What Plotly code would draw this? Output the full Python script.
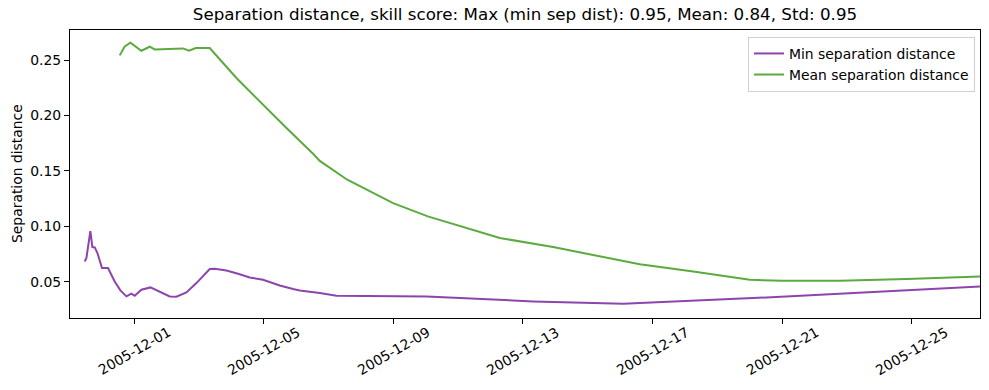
import plotly.graph_objects as go

min_dates = [
    "2005-11-29 11:30", "2005-11-29 12:45", "2005-11-29 15:40", "2005-11-29 17:10",
    "2005-11-29 18:55", "2005-11-29 20:55", "2005-11-30 00:17", "2005-11-30 04:45",
    "2005-11-30 09:42", "2005-11-30 13:55", "2005-11-30 18:22", "2005-11-30 22:05",
    "2005-12-01 00:30", "2005-12-01 05:30", "2005-12-01 12:10", "2005-12-01 19:00",
    "2005-12-02 02:27", "2005-12-02 07:25", "2005-12-02 14:48", "2005-12-02 22:13",
    "2005-12-03 04:22", "2005-12-03 08:04", "2005-12-03 11:47", "2005-12-03 20:27",
    "2005-12-04 05:02", "2005-12-04 13:42", "2005-12-04 23:33", "2005-12-05 11:55",
    "2005-12-05 21:46", "2005-12-06 02:44", "2005-12-06 17:33", "2005-12-07 05:55",
    "2005-12-10 00:36", "2005-12-13 07:34", "2005-12-16 02:14", "2005-12-20 12:27",
    "2005-12-27 02:27",
]
min_sep = [
    0.0682, 0.0713, 0.0955, 0.0812, 0.0809, 0.0758, 0.0623, 0.0623,
    0.0502, 0.0421, 0.0367, 0.0391, 0.0373, 0.0427, 0.0448, 0.0412,
    0.0367, 0.0364, 0.0403, 0.0487, 0.0562, 0.0614, 0.0616, 0.0601,
    0.0571, 0.0538, 0.0517, 0.0466, 0.0433, 0.0421, 0.0397, 0.0373,
    0.0367, 0.0322, 0.0301, 0.0357, 0.0457,
]

mean_dates = [
    "2005-11-30 13:25", "2005-11-30 17:07", "2005-11-30 21:20", "2005-12-01 05:28",
    "2005-12-01 11:38", "2005-12-01 15:20", "2005-12-02 12:17", "2005-12-02 16:45",
    "2005-12-02 21:42", "2005-12-03 04:22", "2005-12-03 08:04", "2005-12-04 03:50",
    "2005-12-04 21:07", "2005-12-05 16:53", "2005-12-06 12:36", "2005-12-06 17:33",
    "2005-12-07 13:55", "2005-12-08 23:51", "2005-12-10 01:33", "2005-12-11 08:40",
    "2005-12-12 06:53", "2005-12-13 22:22", "2005-12-15 11:24", "2005-12-16 14:35",
    "2005-12-18 06:04", "2005-12-20 00:04", "2005-12-21 00:44", "2005-12-22 18:44",
    "2005-12-24 20:10", "2005-12-26 11:38", "2005-12-27 02:27",
]
mean_sep = [
    0.2542, 0.2623, 0.2656, 0.2584, 0.2620, 0.2596, 0.2605, 0.2584,
    0.2608, 0.2605, 0.2608, 0.2338, 0.2126, 0.1886, 0.1654, 0.1590,
    0.1420, 0.1209, 0.1089, 0.0975, 0.0894, 0.0812, 0.0722, 0.0657,
    0.0592, 0.0517, 0.0508, 0.0508, 0.0523, 0.0538, 0.0547,
]

tick_vals = ["2005-12-01", "2005-12-05", "2005-12-09", "2005-12-13",
             "2005-12-17", "2005-12-21", "2005-12-25"]
y_ticks = [0.05, 0.10, 0.15, 0.20, 0.25]

FONT = "DejaVu Sans"
FS = 13.9

fig = go.Figure()
fig.add_trace(go.Scatter(x=min_dates, y=min_sep, mode="lines",
                         name="Min separation distance",
                         line=dict(color="#8E44AD", width=2)))
fig.add_trace(go.Scatter(x=mean_dates, y=mean_sep, mode="lines",
                         name="Mean separation distance",
                         line=dict(color="#5BAA3F", width=2)))

annotations = [dict(text="Separation distance", textangle=-90,
                    xref="paper", yref="paper", x=(17 - 70) / 910, y=0.5,
                    xanchor="center", yanchor="middle", showarrow=False,
                    font=dict(family=FONT, size=FS, color="black"))]
# x tick labels centred under their ticks, rotated 30 degrees
for t in tick_vals:
    annotations.append(dict(text=t, textangle=-30, xref="x", yref="paper",
                            x=t, y=-(322 - 318) / 288, xanchor="center", yanchor="top",
                            showarrow=False, borderpad=0,
                            font=dict(family=FONT, size=FS, color="black")))

fig.update_layout(
    width=989, height=390,
    margin=dict(l=70, r=9, t=30, b=72),
    paper_bgcolor="white", plot_bgcolor="white",
    font=dict(family=FONT, size=FS, color="black"),
    title=dict(text="Separation distance, skill score: Max (min sep dist): 0.95, Mean: 0.84, Std: 0.95",
               x=0.5, xref="paper", xanchor="center",
               y=1 - 14 / 390, yref="container", yanchor="middle",
               font=dict(family=FONT, size=16.7, color="black")),
    showlegend=True,
    legend=dict(x=0.9945, y=0.976, xanchor="right", yanchor="top",
                bgcolor="rgba(255,255,255,0.8)", bordercolor="#d0d0d0", borderwidth=1,
                font=dict(family=FONT, size=FS, color="black"),
                tracegroupgap=0, itemwidth=30),
    xaxis=dict(range=["2005-11-29 00:36", "2005-12-27 02:27"], type="date",
               tickmode="array", tickvals=tick_vals, showticklabels=False,
               ticks="outside", ticklen=5, tickwidth=1, tickcolor="black",
               showline=True, linecolor="black", linewidth=1.2, mirror=True,
               showgrid=False, zeroline=False),
    yaxis=dict(range=[0.0172, 0.2771], tickmode="array", tickvals=y_ticks,
               ticktext=[f"{v:.2f}" for v in y_ticks],
               ticks="outside", ticklen=5, tickwidth=1, tickcolor="black",
               showline=True, linecolor="black", linewidth=1.2, mirror=True,
               showgrid=False, zeroline=False),
    annotations=annotations,
)

fig.write_html("out.html")
